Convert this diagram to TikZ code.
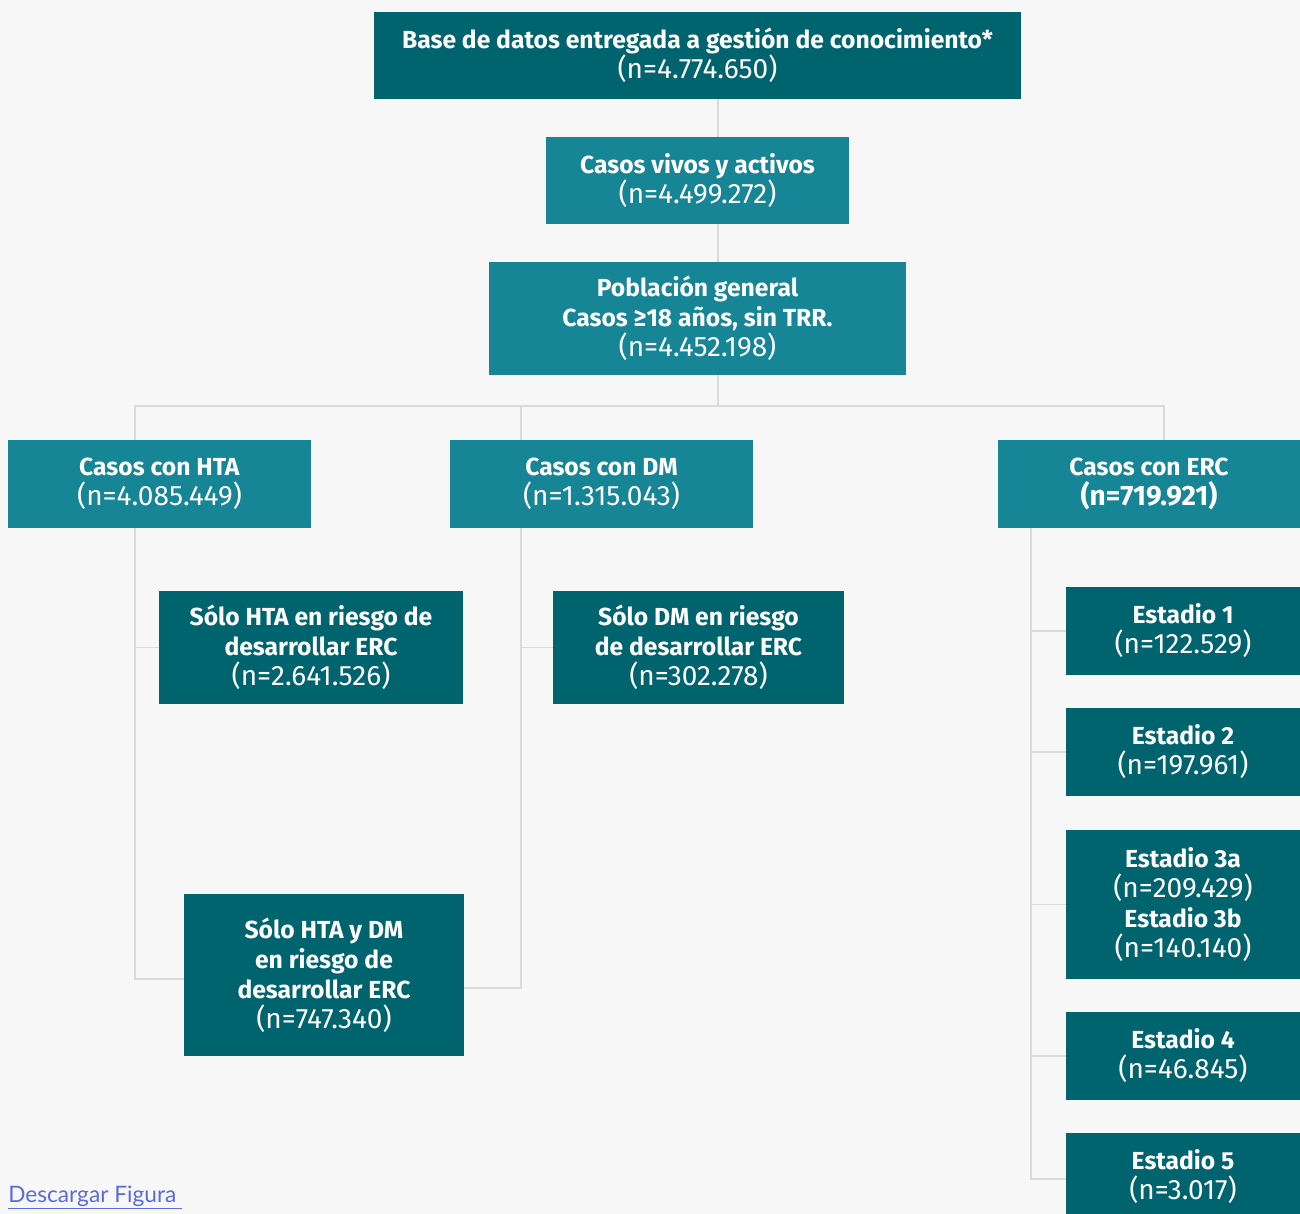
\documentclass[tikz,border=0pt]{standalone}
\usepackage{fontspec}
\setmainfont{Fira Sans}
\newfontfamily\enlacefont{Lato}
\definecolor{oscuro}{HTML}{00646F}
\definecolor{claro}{HTML}{168595}
\definecolor{fondo}{HTML}{F7F7F7}
\definecolor{gris}{HTML}{DADADA}
\definecolor{enlace}{HTML}{5A6BDC}

\newcommand{\cifra}[1]{{\fontsize{21}{22.5}\selectfont #1}}

\tikzset{
  caja/.style={text=white, inner sep=0pt, align=center,
    font=\fontsize{18.5}{22.5}\selectfont},
  conector/.style={draw=gris, line width=1.4pt},
}

\begin{document}
\begin{tikzpicture}[x=0.75pt,y=-0.75pt]

\useasboundingbox (0,0) rectangle (1300,1214);
\fill[fondo] (0,0) rectangle (1300,1214);

% Nivel superior
\node[caja, fill=oscuro, minimum width=647*0.75pt, minimum height=87*0.75pt]
  (base) at (697.5,55.5)
  {\textbf{Base de datos entregada a gestión de conocimiento*}\\\cifra{(n=4.774.650)}};

\node[caja, fill=claro, minimum width=303*0.75pt, minimum height=87*0.75pt]
  (vivos) at (697.5,180.5)
  {\textbf{Casos vivos y activos}\\\cifra{(n=4.499.272)}};

\node[caja, fill=claro, minimum width=417*0.75pt, minimum height=113*0.75pt]
  (pob) at (697.5,318.5)
  {\textbf{Población general}\\\textbf{Casos ≥18 años, sin TRR.}\\\cifra{(n=4.452.198)}};

% Grupos
\node[caja, fill=claro, minimum width=303*0.75pt, minimum height=88*0.75pt]
  (hta) at (159.5,484)
  {\textbf{Casos con HTA}\\\cifra{(n=4.085.449)}};

\node[caja, fill=claro, minimum width=303*0.75pt, minimum height=88*0.75pt]
  (dm) at (601.5,484)
  {\textbf{Casos con DM}\\\cifra{(n=1.315.043)}};

\node[caja, fill=claro, minimum width=302*0.75pt, minimum height=88*0.75pt]
  (erc) at (1149,484)
  {\textbf{Casos con ERC}\\\cifra{\textbf{(n=719.921)}}};

% Riesgo
\node[caja, fill=oscuro, minimum width=304*0.75pt, minimum height=113*0.75pt]
  (shta) at (311,647.5)
  {\textbf{Sólo HTA en riesgo de}\\\textbf{desarrollar ERC}\\\cifra{(n=2.641.526)}};

\node[caja, fill=oscuro, minimum width=291*0.75pt, minimum height=113*0.75pt]
  (sdm) at (698.5,647.5)
  {\textbf{Sólo DM en riesgo}\\\textbf{de desarrollar ERC}\\\cifra{(n=302.278)}};

\node[caja, fill=oscuro, minimum width=280*0.75pt, minimum height=162*0.75pt]
  (shtadm) at (324,975)
  {\textbf{Sólo HTA y DM}\\\textbf{en riesgo de}\\\textbf{desarrollar ERC}\\\cifra{(n=747.340)}};

% Estadios
\node[caja, fill=oscuro, minimum width=234*0.75pt, minimum height=88*0.75pt]
  (e1) at (1183,631) {\textbf{Estadio 1}\\\cifra{(n=122.529)}};
\node[caja, fill=oscuro, minimum width=234*0.75pt, minimum height=88*0.75pt]
  (e2) at (1183,752) {\textbf{Estadio 2}\\\cifra{(n=197.961)}};
\node[caja, fill=oscuro, minimum width=234*0.75pt, minimum height=149*0.75pt]
  (e3) at (1183,904.5)
  {\textbf{Estadio 3a}\\\cifra{(n=209.429)}\\\textbf{Estadio 3b}\\\cifra{(n=140.140)}};
\node[caja, fill=oscuro, minimum width=234*0.75pt, minimum height=88*0.75pt]
  (e4) at (1183,1056) {\textbf{Estadio 4}\\\cifra{(n=46.845)}};
\node[caja, fill=oscuro, minimum width=234*0.75pt, minimum height=88*0.75pt]
  (e5) at (1183,1177) {\textbf{Estadio 5}\\\cifra{(n=3.017)}};

% Conectores
\coordinate (eje) at (718,406);
\coordinate (rhta) at (135,406);
\coordinate (rdm) at (521,406);
\coordinate (rerc) at (1164,406);
\coordinate (bhta) at (135,979);
\coordinate (bdm) at (521,988);
\coordinate (berc) at (1031,1179);

\draw[conector] (base.south -| eje) -- (vivos.north -| eje);
\draw[conector] (vivos.south -| eje) -- (pob.north -| eje);
\draw[conector] (pob.south -| eje) -- (eje);
\draw[conector] (rhta |- hta.north) -- (rhta) -- (rerc) -- (rerc |- erc.north);
\draw[conector] (rdm) -- (rdm |- dm.north);

\draw[conector] (hta.south -| bhta) -- (bhta) -- (bhta -| shtadm.west);
\draw[conector] (shta.west -| bhta) -- (shta.west);
\draw[conector] (dm.south -| bdm) -- (bdm) -- (bdm -| shtadm.east);
\draw[conector] (sdm.west -| bdm) -- (sdm.west);

\draw[conector] (erc.south -| berc) -- (berc) -- (berc -| e5.west);
\foreach \e in {e1,e2,e3,e4}
  \draw[conector] (\e.west -| berc) -- (\e.west);

% Enlace
\node[anchor=base west, inner sep=0pt, text=enlace,
  font=\enlacefont\fontsize{17}{20}\selectfont]
  (descarga) at (8,1202) {\underline{Descargar Figura\ }};

\end{tikzpicture}
\end{document}
